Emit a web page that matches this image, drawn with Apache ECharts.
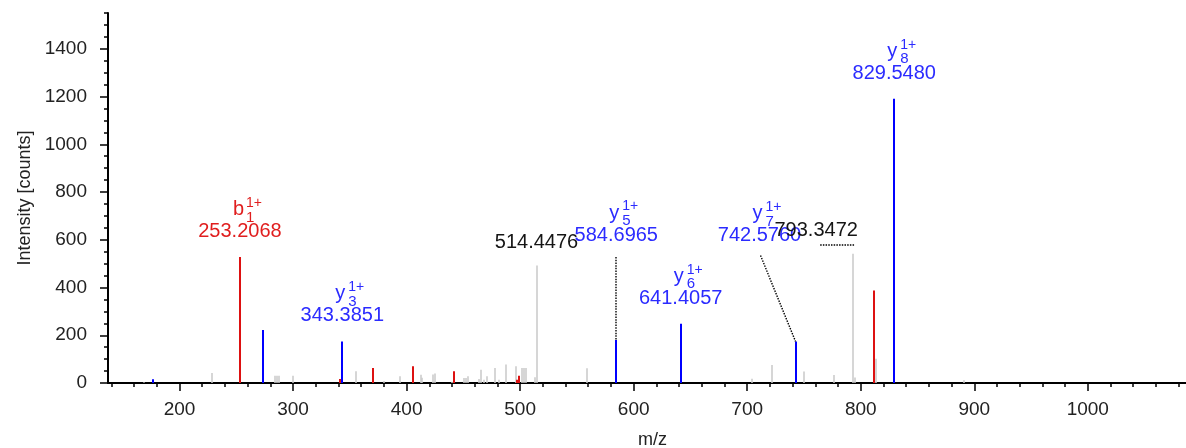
<!DOCTYPE html>
<html>
<head>
<meta charset="utf-8">
<title>MS/MS spectrum</title>
<script src="https://cdn.jsdelivr.net/npm/echarts@6.0.0/dist/echarts.min.js"></script>
<style>
  html, body { margin: 0; padding: 0; background: #fff; }
  #chart { width: 1186px; height: 448px; }
</style>
</head>
<body>
<div id="chart"></div>
<script>
// axis range and ticks
const mzMin = 137;
const mzMax = 1086.5;
const intensityMax = 1550;
const xMajorTicks = [200, 300, 400, 500, 600, 700, 800, 900, 1000];
const xMinorTicks = [140, 160, 180, 200, 220, 240, 260, 280, 300, 320, 340, 360, 380, 400, 420, 440, 460, 480,
  500, 520, 540, 560, 580, 600, 620, 640, 660, 680, 700, 720, 740, 760, 780, 800, 820, 840, 860, 880,
  900, 920, 940, 960, 980, 1000, 1020, 1040, 1060, 1080];
const yMajorTicks = [0, 200, 400, 600, 800, 1000, 1200, 1400];
const yMinorTicks = [0, 50, 100, 150, 200, 250, 300, 350, 400, 450, 500, 550, 600, 650, 700, 750, 800,
  850, 900, 950, 1000, 1050, 1100, 1150, 1200, 1250, 1300, 1350, 1400, 1450, 1500, 1550];

// peaks [m/z, intensity]
const grayPeaks = [
  [168.9, 3], [228.5, 42], [284.0, 30], [285.5, 30], [287.3, 30], [299.6, 30], [355.6, 49],
  [380.3, 8], [394.1, 28], [412.4, 35], [413.8, 22], [423.5, 36], [425.2, 40], [439.7, 5],
  [450.6, 21], [452.2, 21], [454.3, 28], [464.2, 17], [465.6, 56], [468.3, 14], [471.0, 28],
  [477.8, 63], [481.2, 14], [487.8, 77], [496.2, 70], [501.5, 63], [503.3, 63], [505.1, 63],
  [513.0, 24], [514.4476, 492], [559.1, 62], [704.0, 18], [722.2, 75], [750.2, 48],
  [776.5, 34], [793.3472, 541], [795.1, 23], [813.2, 102], [890.8, 12]
];
const redPeaks = [
  [253.2068, 528], [341.3, 17], [370.6, 63], [405.6, 70], [442.0, 49], [497.3, 14], [498.9, 30],
  [811.6, 388]
];
const bluePeaks = [
  [176.8, 16], [273.5, 222], [343.3851, 174], [584.6965, 180], [641.4057, 248],
  [742.5760, 174], [829.5480, 1191]
];

// annotated peaks
const annMz = [253.2068, 343.3851, 514.4476, 584.6965, 641.4057, 742.5760, 793.3472, 829.5480];
const annIntensity = [528, 174, 492, 180, 248, 174, 541, 1191];
const annText = ['253.2068', '343.3851', '514.4476', '584.6965', '641.4057', '742.5760', '793.3472', '829.5480'];
const annIon = ['b', 'y', '', 'y', 'y', 'y', '', 'y'];
const annIndex = ['1', '3', '', '5', '6', '7', '', '8'];
const annCharge = ['1+', '1+', '', '1+', '1+', '1+', '', '1+'];

const FONT = '"Liberation Sans", Arial, sans-serif';
const colors = { b: '#e01e1e', y: '#2b2bff', '': '#151515' };

// where a label sits if it can't go straight over its peak
const labelPlace = {
  '514.4476': { up: 23 },
  '584.6965': { up: 105, leader: 'vertical' },
  '742.5760': { up: 106, dx: -36, leader: 'diagonal' },
  '793.3472': { up: 23, dx: -37, leader: 'horizontal' }
};

function sticks (data, color, width) {
  return {
    type: 'custom',
    data: data,
    silent: true,
    renderItem: function (params, api) {
      const base = api.coord([api.value(0), 0]);
      const top = api.coord([api.value(0), api.value(1)]);
      const x = Math.round(base[0]);
      return {
        type: 'line',
        shape: { x1: x, y1: base[1], x2: x, y2: top[1] },
        style: { stroke: color, lineWidth: width }
      };
    }
  };
}

function labelItem (params, api) {
  const i = params.dataIndex;
  const top = api.coord([api.value(0), api.value(1)]);
  const place = labelPlace[annText[i]] || { up: 25.5 };
  const cx = top[0] + (place.dx || 0);
  const cy = top[1] - place.up;
  const color = colors[annIon[i]];
  const children = [{
    type: 'text',
    style: { x: cx, y: cy, text: annText[i], fill: color, font: '20px ' + FONT, align: 'center', verticalAlign: 'middle' }
  }];
  if (annIon[i]) {
    children.push({
      type: 'text',
      style: { x: cx - 7, y: cy - 22, text: annIon[i], fill: color, font: '20px ' + FONT, align: 'left', verticalAlign: 'middle' }
    });
    children.push({
      type: 'text',
      style: { x: cx + 6, y: cy - 28.5, text: annCharge[i], fill: color, font: '14px ' + FONT, align: 'left', verticalAlign: 'middle' }
    });
    children.push({
      type: 'text',
      style: { x: cx + 6, y: cy - 14, text: annIndex[i], fill: color, font: '15px ' + FONT, align: 'left', verticalAlign: 'middle' }
    });
  }
  // dotted leader lines
  const dotted = { stroke: '#000', lineWidth: 1.4, lineDash: [1.5, 1.2] };
  if (place.leader === 'vertical') {
    children.push({ type: 'line', shape: { x1: Math.round(top[0]), y1: cy + 22, x2: Math.round(top[0]), y2: top[1] }, style: dotted });
  } else if (place.leader === 'diagonal') {
    children.push({ type: 'line', shape: { x1: cx + 1, y1: cy + 20, x2: top[0], y2: top[1] }, style: dotted });
  } else if (place.leader === 'horizontal') {
    children.push({ type: 'line', shape: { x1: cx + 4, y1: Math.round(cy + 14), x2: top[0] + 1, y2: Math.round(cy + 14) }, style: dotted });
  }
  return { type: 'group', children: children };
}

const chart = echarts.init(document.getElementById('chart'), null, { renderer: 'canvas' });
const axisColor = '#000';
const plain = (v) => String(v);
const option = {
  animation: false,
  backgroundColor: '#fff',
  grid: { left: 108, right: 0, top: 13, bottom: 65, containLabel: false, outerBoundsMode: 'none' },
  xAxis: [
    {
      type: 'value',
      min: mzMin,
      max: mzMax,
      axisLine: { show: true, lineStyle: { color: axisColor, width: 2 } },
      axisTick: { show: true, customValues: xMinorTicks, length: 4, lineStyle: { color: axisColor, width: 1.5 } },
      axisLabel: { show: false },
      splitLine: { show: false }
    },
    {
      type: 'value',
      position: 'bottom',
      min: mzMin,
      max: mzMax,
      name: 'm/z',
      nameLocation: 'middle',
      nameGap: 48,
      nameTextStyle: { fontFamily: FONT, fontSize: 18, color: '#222', padding: [0, 0, 0, 11] },
      axisLine: { show: false },
      axisTick: { show: true, customValues: xMajorTicks, length: 8, lineStyle: { color: axisColor, width: 1.5 } },
      axisLabel: { show: true, customValues: xMajorTicks, formatter: plain, margin: 17, fontFamily: FONT, fontSize: 19, color: '#222' },
      splitLine: { show: false }
    }
  ],
  yAxis: [
    {
      type: 'value',
      min: 0,
      max: intensityMax,
      axisLine: { show: true, lineStyle: { color: axisColor, width: 2 } },
      axisTick: { show: true, customValues: yMinorTicks, length: 4, lineStyle: { color: axisColor, width: 1.5 } },
      axisLabel: { show: false },
      splitLine: { show: false }
    },
    {
      type: 'value',
      position: 'left',
      min: 0,
      max: intensityMax,
      name: 'Intensity [counts]',
      nameLocation: 'middle',
      nameGap: 70,
      nameTextStyle: { fontFamily: FONT, fontSize: 18, color: '#222' },
      axisLine: { show: false },
      axisTick: { show: true, customValues: yMajorTicks, length: 8, lineStyle: { color: axisColor, width: 1.5 } },
      axisLabel: { show: true, customValues: yMajorTicks, formatter: plain, margin: 21, fontFamily: FONT, fontSize: 19, color: '#222' },
      splitLine: { show: false }
    }
  ],
  series: [
    sticks(grayPeaks, '#c8c8c8', 1.5),
    sticks(redPeaks, '#dd1111', 2),
    sticks(bluePeaks, '#0000ff', 2),
    {
      type: 'custom',
      silent: true,
      data: annMz.map((mz, i) => [mz, annIntensity[i]]),
      renderItem: labelItem,
      z: 5
    }
  ]
};
chart.setOption(option);
</script>
</body>
</html>
